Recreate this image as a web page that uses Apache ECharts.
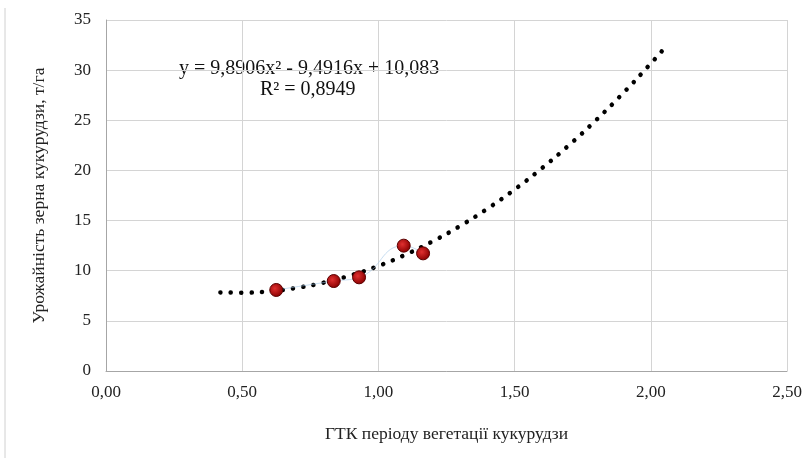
<!DOCTYPE html>
<html>
<head>
<meta charset="utf-8">
<script src="https://cdn.jsdelivr.net/npm/echarts@6/dist/echarts.min.js"></script>
<style>html,body{margin:0;padding:0;background:#fff}#c{width:805px;height:458px}</style>
</head>
<body>
<div id="c"></div>
<script>
// Observed data points (ГТК, урожайність)
const gtk = [0.625, 0.836, 0.929, 1.093, 1.164];
const yieldVals = [8.08, 8.97, 9.34, 12.5, 11.73];
// Trend curve read from the dotted trendline
const trendX = [0.42, 0.5, 0.6, 0.7, 0.8, 0.9, 1.0, 1.1, 1.2, 1.3, 1.4, 1.5, 1.6, 1.7, 1.8, 1.9, 2.0, 2.06];
const trendY = [7.84, 7.81, 7.95, 8.29, 8.82, 9.55, 10.48, 11.61, 12.94, 14.46, 16.18, 18.10, 20.22, 22.53, 25.04, 27.75, 30.66, 32.50];
const xTicks = ['0,00', '0,50', '1,00', '1,50', '2,00', '2,50'];
const equation = 'y = 9,8906x² - 9,4916x + 10,083';
const r2 = 'R² = 0,8949';

const font = '"Liberation Serif", "DejaVu Serif", serif';
const chart = echarts.init(document.getElementById('c'));
chart.setOption({
  animation: false,
  backgroundColor: '#fff',
  grid: { left: 106, right: 18, top: 20, bottom: 87 },
  xAxis: {
    type: 'value', min: 0, max: 2.5, interval: 0.5,
    name: 'ГТК періоду вегетації кукурудзи',
    nameLocation: 'middle', nameGap: 54,
    nameTextStyle: { fontFamily: font, fontSize: 17.5, color: '#222' },
    axisLine: { show: true, lineStyle: { color: '#a6a6a6', width: 1 } },
    axisTick: { show: false },
    axisLabel: { fontFamily: font, fontSize: 17, color: '#222', margin: 13,
      formatter: v => xTicks[Math.round(v / 0.5)] },
    splitLine: { show: true, lineStyle: { color: '#d4d4d4', width: 1 } }
  },
  yAxis: {
    type: 'value', min: 0, max: 35, interval: 5,
    name: 'Урожайність зерна кукурудзи, т/га',
    nameLocation: 'middle', nameGap: 58,
    nameTextStyle: { fontFamily: font, fontSize: 17.5, color: '#222' },
    axisLine: { show: true, lineStyle: { color: '#a6a6a6', width: 1 } },
    axisTick: { show: false },
    axisLabel: { fontFamily: font, fontSize: 17, color: '#222', margin: 15 },
    splitLine: { show: true, lineStyle: { color: '#d4d4d4', width: 1 } }
  },
  graphic: [
    { type: 'line', shape: { x1: 5, y1: 8, x2: 5, y2: 458 }, style: { stroke: '#d0d0d0', lineWidth: 1 } },
    { type: 'text', left: 179, top: 59, style: { text: equation, font: '20px ' + font, fill: '#111' } },
    { type: 'text', left: 260, top: 80, style: { text: r2, font: '20px ' + font, fill: '#111' } }
  ],
  series: [
    {
      type: 'line', smooth: true, symbol: 'none', z: 2,
      data: trendX.map((x, i) => [x, trendY[i]]),
      lineStyle: { color: '#000', width: 4.5, type: [0.1, 10.3], cap: 'round' }
    },
    {
      type: 'line', smooth: true, z: 3,
      data: gtk.map((x, i) => [x, yieldVals[i]]),
      lineStyle: { color: '#9dc3e6', width: 0.8, opacity: 0.7 },
      symbol: 'circle', symbolSize: 13,
      itemStyle: {
        color: { type: 'radial', x: 0.4, y: 0.4, r: 0.6,
          colorStops: [{ offset: 0, color: '#e03030' }, { offset: 1, color: '#8a0000' }] },
        borderColor: '#5a0000', borderWidth: 1
      }
    }
  ]
});
</script>
</body>
</html>
